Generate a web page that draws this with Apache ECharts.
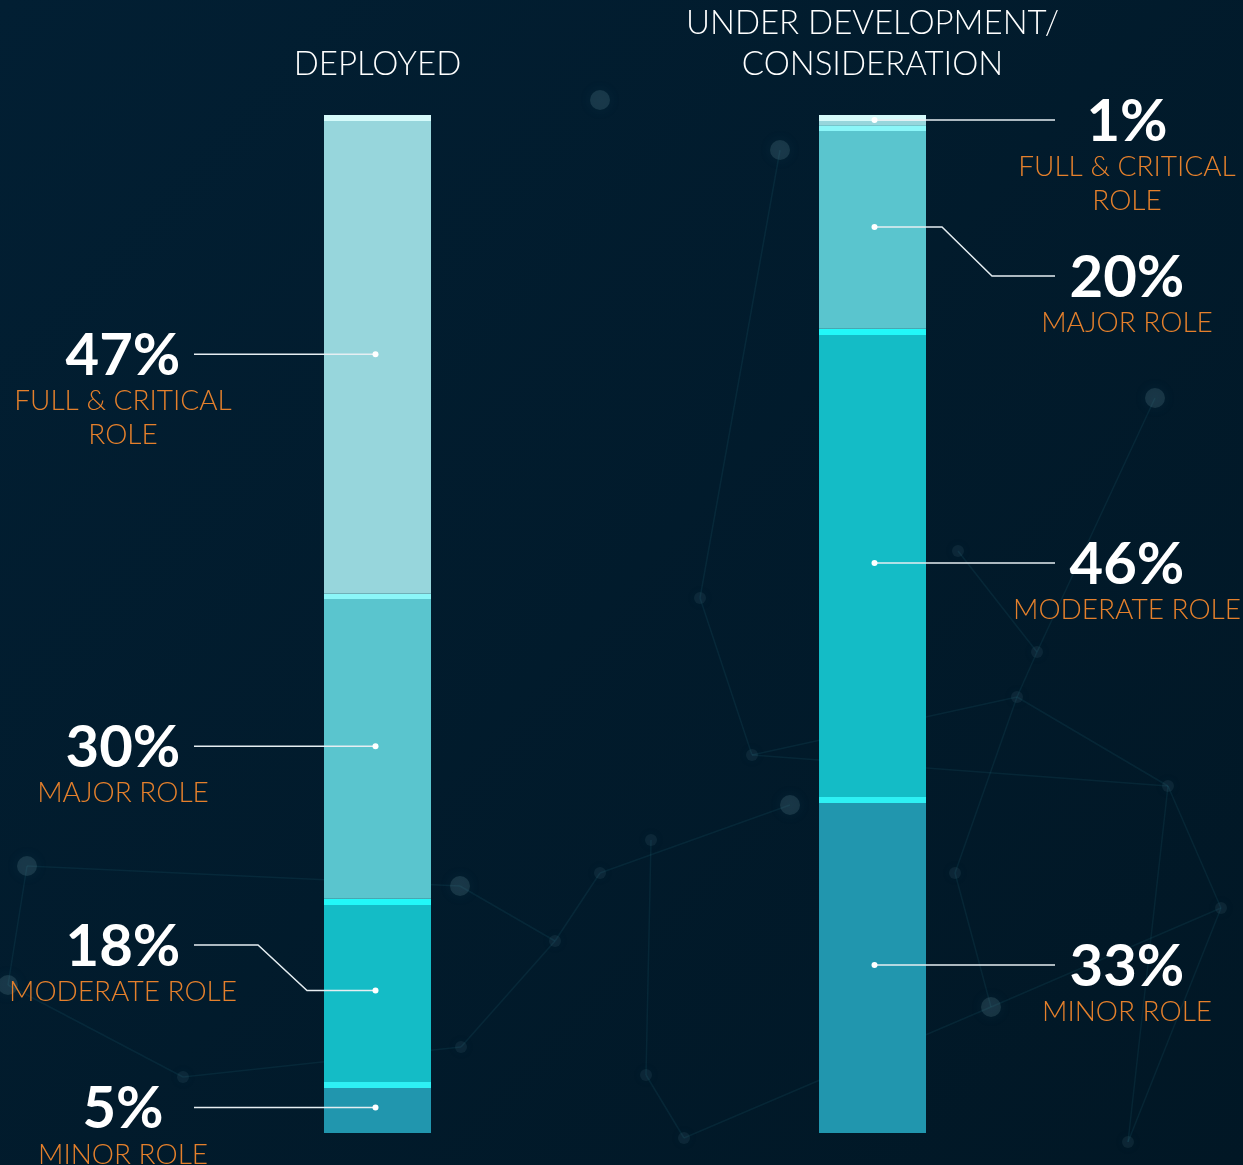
<!DOCTYPE html>
<html>
<head>
<meta charset="utf-8">
<script src="https://cdn.jsdelivr.net/npm/echarts@6/dist/echarts.min.js"></script>
<style>
  html, body { margin: 0; padding: 0; background: #021b2d; }
  #main { width: 1243px; height: 1165px; }
</style>
</head>
<body>
<div id="main"></div>
<script>
// data
var categories = ['DEPLOYED', 'UNDER DEVELOPMENT/\nCONSIDERATION'];
var roleNames = ['MINOR ROLE', 'MODERATE ROLE', 'MAJOR ROLE', 'FULL & CRITICAL\nROLE'];
var minorRole = [5, 33];
var moderateRole = [18, 46];
var majorRole = [30, 20];
var fullRole = [47, 1];

var roleValues = [minorRole, moderateRole, majorRole, fullRole];
var roleColors = ['#2196ae', '#14bcc6', '#5ac5ce', '#97d6dc'];
var bandColors = ['#2ef0f4', '#22f8f8', '#8bf6f8', '#d5fafa'];

var chart = echarts.init(document.getElementById('main'));

var PX_PER_PCT = 10.18; // 1018px plot height / 100
var BAND = 6;

function segStyle(role, v) {
    var f = Math.min(0.9, BAND / (v * PX_PER_PCT));
    return {
        color: new echarts.graphic.LinearGradient(0, 0, 0, 1, [
            { offset: 0, color: bandColors[role] },
            { offset: f, color: bandColors[role] },
            { offset: f, color: roleColors[role] },
            { offset: 1, color: roleColors[role] }
        ])
    };
}

var series = roleValues.map(function (vals, r) {
    return {
        name: roleNames[r],
        type: 'bar',
        stack: 'all',
        barWidth: 107,
        silent: true,
        data: vals.map(function (v) {
            return { value: v, itemStyle: segStyle(r, v) };
        })
    };
});

// faint network decoration in the background
var nodes = [[600, 100], [700, 598], [752, 755], [780, 150], [1017, 697], [1168, 786], [1155, 398], [1037, 652],
    [958, 551], [991, 1007], [1221, 908], [955, 873], [27, 866], [183, 1077], [461, 1047], [460, 886],
    [555, 941], [600, 873], [8, 985], [684, 1138], [1128, 1142], [790, 805], [651, 840], [646, 1075]];
var links = [[1, 2], [1, 3], [2, 5], [4, 5], [4, 7], [4, 11], [5, 10], [6, 7], [7, 8], [9, 11], [9, 10], [9, 19],
    [12, 18], [12, 15], [13, 14], [13, 18], [14, 16], [15, 16], [16, 17], [17, 21], [19, 23], [22, 23], [20, 10], [5, 20], [2, 4]];
var deco = [];
links.forEach(function (l) {
    deco.push({
        type: 'line', silent: true, z: -10,
        shape: { x1: nodes[l[0]][0], y1: nodes[l[0]][1], x2: nodes[l[1]][0], y2: nodes[l[1]][1] },
        style: { stroke: 'rgba(50,130,150,0.13)', lineWidth: 1.5 }
    });
});
nodes.forEach(function (n, i) {
    deco.push({
        type: 'circle', silent: true, z: -9,
        shape: { cx: n[0], cy: n[1], r: (i % 3 === 0) ? 10 : 6 },
        style: { fill: 'rgba(100,140,155,' + ((i % 3 === 0) ? 0.22 : 0.12) + ')', shadowBlur: 14, shadowColor: 'rgba(80,140,160,0.35)' }
    });
});

var option = {
    backgroundColor: new echarts.graphic.LinearGradient(0, 0, 1, 1, [
        { offset: 0, color: '#021f33' },
        { offset: 1, color: '#011725' }
    ]),
    animation: false,
    grid: { left: 130, width: 990, top: 115, height: 1018 },
    xAxis: {
        type: 'category',
        position: 'top',
        data: categories,
        axisLine: { show: false },
        axisTick: { show: false },
        axisLabel: {
            color: '#ffffff',
            fontFamily: 'Lato',
            fontWeight: 300,
            fontSize: 33,
            lineHeight: 41,
            margin: 30
        }
    },
    yAxis: { type: 'value', min: 0, max: 100, show: false, splitLine: { show: false } },
    series: series,
    graphic: deco
};
chart.setOption(option);

// callouts: label y overrides (null = follow the dot)
var labelX = [123, 1127];
var lineEnd = [194, 1055];
var bendNear = [307, 942];
var bendFar = [258, 992];
var dotShift = [-2, 2];
var labelYOverride = [[null, 945, null, null], [null, null, 276, null]];

var callouts = [];
categories.forEach(function (c, i) {
    var base = 0;
    roleValues.forEach(function (vals, r) {
        var v = vals[i];
        var p = chart.convertToPixel({ gridIndex: 0 }, [i, base + v / 2]);
        base += v;
        var dx = p[0] + dotShift[i], dy = p[1];
        var ly = labelYOverride[i][r] != null ? labelYOverride[i][r] : dy;
        callouts.push({
            type: 'polyline', silent: true, z: 20,
            shape: { points: [[dx, dy], [bendNear[i], dy], [bendFar[i], ly], [lineEnd[i], ly]] },
            style: { stroke: '#e6eef2', lineWidth: 1.5, fill: null }
        });
        callouts.push({
            type: 'circle', silent: true, z: 21,
            shape: { cx: dx, cy: dy, r: 3 },
            style: { fill: '#ffffff' }
        });
        callouts.push({
            type: 'text', silent: true, z: 21,
            x: labelX[i], y: ly + 2,
            style: {
                text: v + '%', fill: '#ffffff', font: 'bold 58px Lato',
                align: 'center', verticalAlign: 'middle'
            }
        });
        callouts.push({
            type: 'text', silent: true, z: 21,
            x: labelX[i], y: ly + 30,
            style: {
                text: roleNames[r], fill: '#e5802c', font: '300 28px Lato',
                lineHeight: 34, align: 'center', verticalAlign: 'top'
            }
        });
    });
});

chart.setOption({ graphic: deco.concat(callouts) });
</script>
</body>
</html>
